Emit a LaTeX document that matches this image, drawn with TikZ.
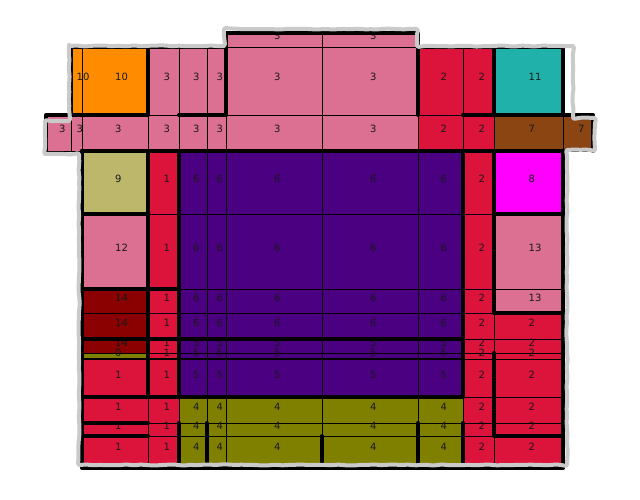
\documentclass[tikz,border=0pt]{standalone}
\usepackage{fontspec}
\setmainfont{DejaVu Sans}
\usetikzlibrary{decorations.pathmorphing}
\definecolor{tmPink}{HTML}{DB7093}
\definecolor{tmRed}{HTML}{DC143C}
\definecolor{tmOrange}{HTML}{FF8C00}
\definecolor{tmTeal}{HTML}{20B2AA}
\definecolor{tmBrown}{HTML}{8B4513}
\definecolor{tmKhaki}{HTML}{BDB76B}
\definecolor{tmIndigo}{HTML}{4B0082}
\definecolor{tmMagenta}{HTML}{FF00FF}
\definecolor{tmMaroon}{HTML}{8B0000}
\definecolor{tmOlive}{HTML}{808000}
\definecolor{tmHull}{HTML}{CACACA}
\def\colx{{47,71,82,148,179,207,226,322,418,463,494,563,593}}
% one row of cells: index, top, bottom, column/colour/label list
\newcommand{\gridrow}[4]{%
  \foreach \ci/\cc/\cl in {#4} {
    \pgfmathsetmacro{\xa}{\colx[\ci]}\pgfmathsetmacro{\xb}{\colx[\ci+1]}
    \path[cellbox,fill=\cc] (\xa,#2) rectangle (\xb,#3);
  }
  \foreach \ci/\cc/\cl in {#4} {
    \pgfmathsetmacro{\xa}{\colx[\ci]}\pgfmathsetmacro{\xb}{\colx[\ci+1]}
    \pgfmathsetmacro{\xm}{(\xa+\xb)/2}
    \node[celltext] (n#1-\ci) at (\xm,{(#2+#3)/2}) {\cl};
  }}

\begin{document}
\begin{tikzpicture}[x=1pt,y=-1pt,line cap=round,line join=round]
\path[fill=white] (0,0) rectangle (640,500);
\tikzset{cellbox/.style={draw=black,line width=0.8pt},celltext/.style={anchor=base west,inner sep=0pt,text=black!90,font=\fontsize{10}{12}\selectfont},bline/.style={draw=black,line width=4pt},hull/.style={draw=tmHull,line width=4pt,rounded corners=2pt,decorate,decoration={random steps,segment length=5pt,amplitude=0.6pt}}}
\gridrow{0}{33}{47}{6/tmPink/3,7/tmPink/3}
\gridrow{1}{47}{115}{1/tmOrange/10,2/tmOrange/10,3/tmPink/3,4/tmPink/3,5/tmPink/3,6/tmPink/3,7/tmPink/3,8/tmRed/2,9/tmRed/2,10/tmTeal/11}
\gridrow{2}{115}{151}{0/tmPink/3,1/tmPink/3,2/tmPink/3,3/tmPink/3,4/tmPink/3,5/tmPink/3,6/tmPink/3,7/tmPink/3,8/tmRed/2,9/tmRed/2,10/tmBrown/7,11/tmBrown/7}
\gridrow{3}{151}{214}{2/tmKhaki/9,3/tmRed/1,4/tmIndigo/6,5/tmIndigo/6,6/tmIndigo/6,7/tmIndigo/6,8/tmIndigo/6,9/tmRed/2,10/tmMagenta/8}
\gridrow{4}{214}{289}{2/tmPink/12,3/tmRed/1,4/tmIndigo/6,5/tmIndigo/6,6/tmIndigo/6,7/tmIndigo/6,8/tmIndigo/6,9/tmRed/2,10/tmPink/13}
\gridrow{5}{289}{313}{2/tmMaroon/14,3/tmRed/1,4/tmIndigo/6,5/tmIndigo/6,6/tmIndigo/6,7/tmIndigo/6,8/tmIndigo/6,9/tmRed/2,10/tmPink/13}
\gridrow{6}{313}{339}{2/tmMaroon/14,3/tmRed/1,4/tmIndigo/6,5/tmIndigo/6,6/tmIndigo/6,7/tmIndigo/6,8/tmIndigo/6,9/tmRed/2,10/tmRed/2}
\gridrow{7}{339}{353}{2/tmMaroon/14,3/tmRed/1,4/tmIndigo/5,5/tmIndigo/5,6/tmIndigo/5,7/tmIndigo/5,8/tmIndigo/5,9/tmRed/2,10/tmRed/2}
\gridrow{8}{353}{359}{2/tmOlive/0,3/tmRed/1,4/tmIndigo/5,5/tmIndigo/5,6/tmIndigo/5,7/tmIndigo/5,8/tmIndigo/5,9/tmRed/2,10/tmRed/2}
\gridrow{9}{359}{397}{2/tmRed/1,3/tmRed/1,4/tmIndigo/5,5/tmIndigo/5,6/tmIndigo/5,7/tmIndigo/5,8/tmIndigo/5,9/tmRed/2,10/tmRed/2}
\gridrow{10}{397}{423}{2/tmRed/1,3/tmRed/1,4/tmOlive/4,5/tmOlive/4,6/tmOlive/4,7/tmOlive/4,8/tmOlive/4,9/tmRed/2,10/tmRed/2}
\gridrow{11}{423}{436}{2/tmRed/1,3/tmRed/1,4/tmOlive/4,5/tmOlive/4,6/tmOlive/4,7/tmOlive/4,8/tmOlive/4,9/tmRed/2,10/tmRed/2}
\gridrow{12}{436}{465}{2/tmRed/1,3/tmRed/1,4/tmOlive/4,5/tmOlive/4,6/tmOlive/4,7/tmOlive/4,8/tmOlive/4,9/tmRed/2,10/tmRed/2}
% region borders
\draw[bline] (71,47) -- (226,47) (71,47) -- (71,115) -- (148,115) (148,47) -- (148,115) (179,115) -- (226,115);
\draw[bline] (226,115) -- (226,33) -- (418,33) -- (418,115);
\draw[bline] (418,47) -- (563,47) (494,47) -- (494,115) (563,47) -- (563,115) (463,115) -- (593,115) -- (593,151);
\draw[bline] (71,115) -- (46,115) -- (46,151) (82,151) -- (563,151);
\draw[bline] (82,151) -- (82,468) -- (563,468) -- (563,151);
\draw[bline] (148,151) -- (148,397) (179,151) -- (179,397) (463,151) -- (463,397) (494,151) -- (494,313) -- (563,313);
\draw[bline] (82,214) -- (148,214) (494,214) -- (563,214) (82,289) -- (179,289);
\draw[bline] (82,339) -- (463,339) (82,397) -- (463,397) (82,423) -- (148,423) (82,436) -- (148,436);
\draw[bline] (179,423) -- (179,466) (207,423) -- (207,466) (322,436) -- (322,466) (418,423) -- (418,466) (463,423) -- (463,466);
\draw[bline] (494,353) -- (494,436) -- (563,436);
\draw[bline,line width=2.4pt] (82,359) -- (463,359);
% sketched hull
\draw[hull] (69,46) -- (224,46) -- (224,29) -- (417,29) -- (417,46) -- (573,46) -- (573,118) -- (595,118) -- (595,150) -- (567,150) -- (567,465) -- (79,465) -- (79,154) -- (45,154) -- (45,121) -- (69,121) -- cycle;
\end{tikzpicture}
\end{document}
